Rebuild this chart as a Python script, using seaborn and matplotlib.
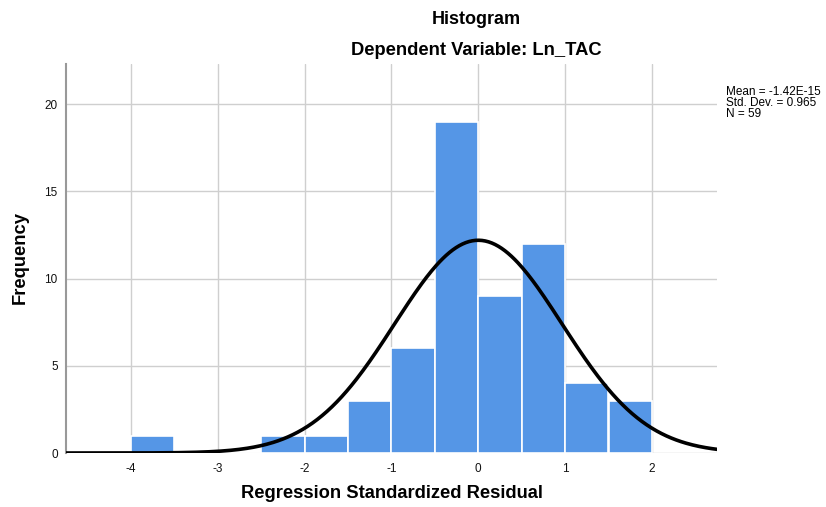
import numpy as np
import pandas as pd
import matplotlib
matplotlib.use("Agg")
import matplotlib.pyplot as plt
import seaborn as sns

# Data
bin_edges = [-4.0, -3.5, -3.0, -2.5, -2.0, -1.5, -1.0, -0.5, 0.0, 0.5, 1.0, 1.5, 2.0]
counts = [1, 0, 0, 1, 1, 3, 6, 19, 9, 12, 4, 3]
mean_val = -1.42e-15
sd_val = 0.965
n_val = 59
x_ticks = [-4, -3, -2, -1, 0, 1, 2]
y_ticks = [0, 5, 10, 15, 20]

sns.set_theme(style="white")
plt.rcParams['font.family'] = ['Liberation Sans', 'DejaVu Sans']

fig = plt.figure(figsize=(8.26, 5.07), dpi=100)
ax = fig.add_axes([66/826, 1-453/507, (717-66)/826, (453-64)/507])

centers = [(bin_edges[i] + bin_edges[i+1]) / 2 for i in range(len(counts))]
df = pd.DataFrame({"x": centers, "w": counts})
sns.histplot(data=df, x="x", weights="w", bins=bin_edges, ax=ax,
             color="#5596E6", alpha=1, edgecolor="white", linewidth=1.2, zorder=2)

# normal curve
bw = bin_edges[1] - bin_edges[0]
xs = np.linspace(-4.75, 2.75, 400)
ys = n_val * bw / (sd_val * np.sqrt(2 * np.pi)) * np.exp(-0.5 * ((xs - mean_val) / sd_val) ** 2)
sns.lineplot(x=xs, y=ys, ax=ax, color="black", linewidth=2.6, zorder=4)

ax.set_xlim(-4.75, 2.75)
ax.set_ylim(0, 22.3)
ax.set_xticks(x_ticks)
ax.set_xticklabels([str(t) for t in x_ticks])
ax.set_yticks(y_ticks)
ax.set_yticklabels([str(t) for t in y_ticks])
ax.tick_params(axis='both', length=0, labelsize=8.5, colors="#111111")
ax.tick_params(axis='x', pad=7)
ax.tick_params(axis='y', pad=6)
ax.grid(True, color="#CFCFCF", linewidth=1.0, zorder=0)
ax.set_axisbelow(True)
for s in ["top", "right", "bottom"]:
    ax.spines[s].set_visible(False)
ax.spines["left"].set_color("#999999")
ax.spines["left"].set_linewidth(1.5)

ax.set_xlabel("")
ax.set_ylabel("")
fig.text(392/826, 1-494/507, "Regression Standardized Residual", ha="center", va="center",
         fontsize=13.2, fontweight="bold", color="black")
fig.text(20/826, 1-258/507, "Frequency", ha="center", va="center", rotation=90,
         fontsize=13.2, fontweight="bold", color="black")
fig.text(476/826, 1-19/507, "Histogram", ha="center", va="center", fontsize=13, fontweight="bold",
         color="black")
fig.text(476/826, 1-50/507, "Dependent Variable: Ln_TAC", ha="center", va="center",
         fontsize=13.2, fontweight="bold", color="black")
fig.text(726/826, 1-103/507, "Mean = -1.42E-15\nStd. Dev. = 0.965\nN = 59", ha="left", va="center",
         fontsize=8.5, linespacing=0.92, color="black")

fig.savefig("out.png", dpi=100)
